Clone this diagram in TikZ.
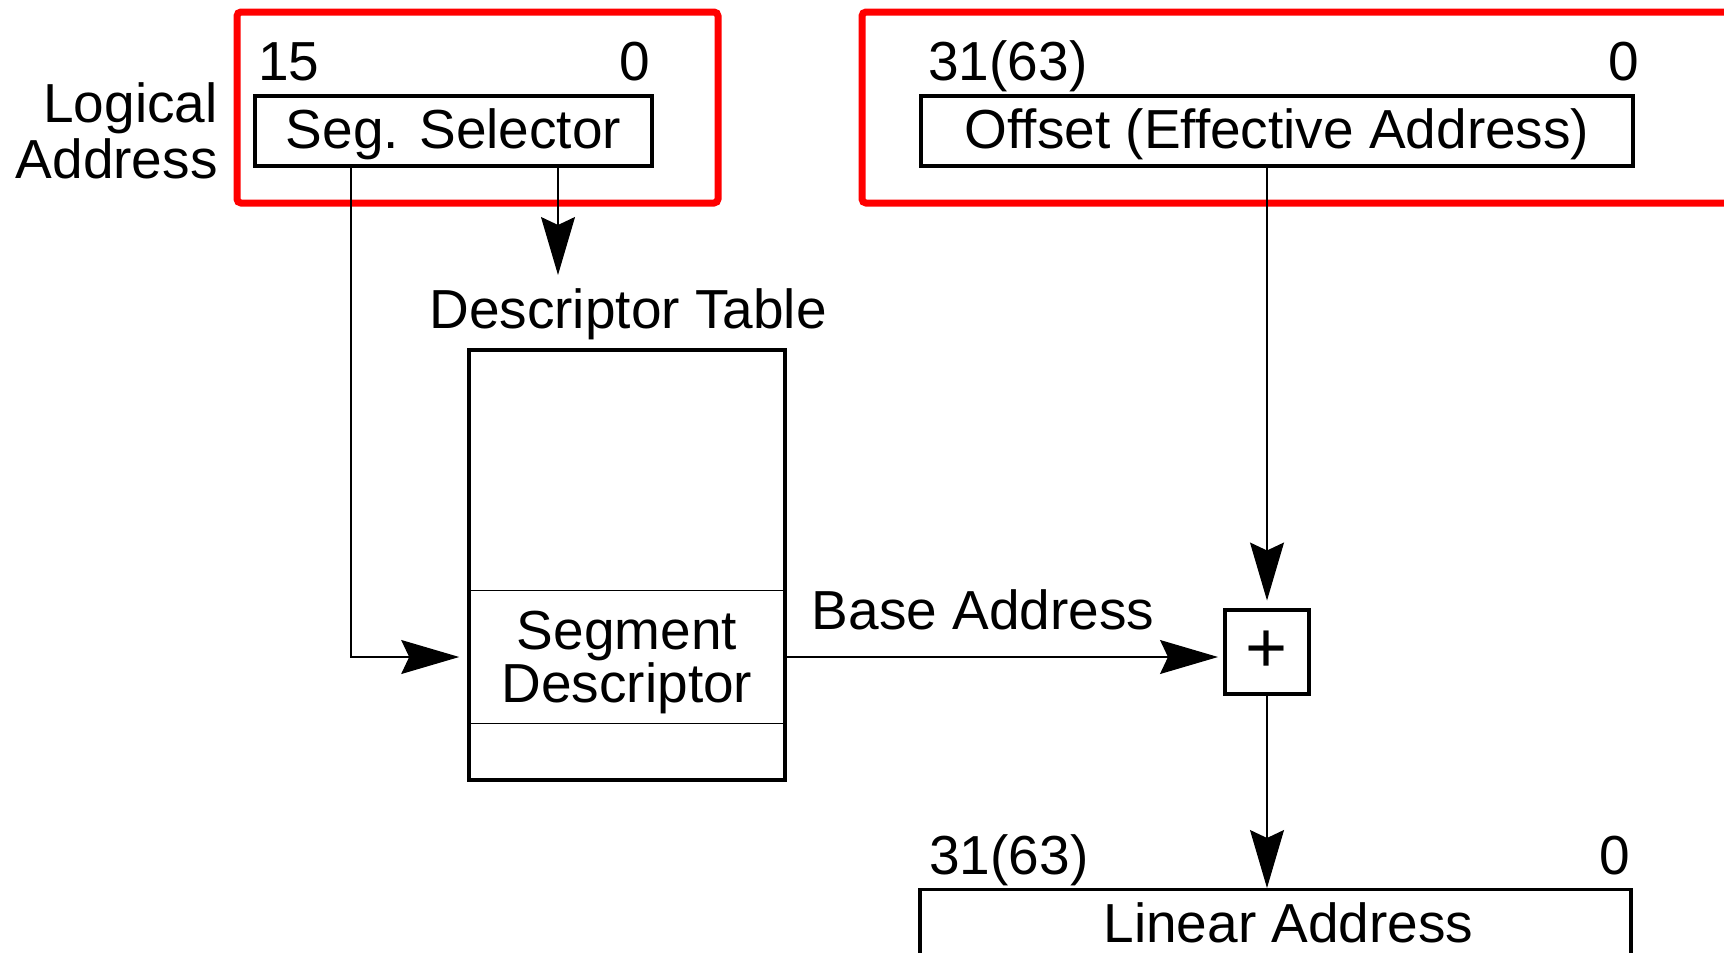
\documentclass[tikz,border=0pt]{standalone}
\usepackage{fontspec}
\setmainfont{Liberation Sans}
\usetikzlibrary{arrows.meta}

\begin{document}
\begin{tikzpicture}[x=0.5pt,y=-0.5pt,>={Stealth[length=29pt,width=17pt,inset=4pt]},
                    font=\fontsize{27.5}{28}\selectfont,
                    conn/.style={->,line width=0.6pt},
                    field/.style={draw,line width=1.7pt,inner sep=0pt,text height=20pt,text depth=3pt},
                    bits/.style={inner sep=0pt},
                    frame/.style={draw=red,line width=3.5pt,rounded corners=2pt}]
\useasboundingbox (0,0) rectangle (1724,953);

% logical address
\draw[frame] (237,12) rectangle (718,203);
\draw[frame] (862,12) rectangle (1770,203);

\node[field,minimum width=198.5pt,minimum height=35pt] (sel) at (453.5,131) {Seg. Selector};
\node[bits,anchor=base west] (selhi) at (258,80) {15};
\node[bits,anchor=base east] (sello) at (650,80) {0};
\node[bits,anchor=east,align=right] (logical) at (218,131) {Logical\\Address};

\node[field,minimum width=356pt,minimum height=35pt] (off) at (1277,131) {Offset (Effective Address)};
\node[bits,anchor=base west] (offhi) at (928,80) {31(63)};
\node[bits,anchor=base east] (offlo) at (1639,80) {0};

% descriptor table
\node[bits,anchor=base] (dtlabel) at (628,328) {Descriptor Table};
\node[draw,line width=0.8pt,minimum width=158pt,minimum height=66.5pt,align=center,text depth=0pt,
      font=\fontsize{27.5}{24.5}\selectfont] (segdesc) at (627,657) {Segment\\Descriptor};
\node[draw,line width=1.7pt,minimum width=158pt,minimum height=215pt] (table) at (627,565) {};

% adder and linear address
\node[draw,line width=2pt,minimum size=42pt,inner sep=0pt,font=\fontsize{36}{36}\selectfont] (plus) at (1267,651.5) {+};
\node[bits,anchor=base] (base) at (983,629) {Base Address};

\node[field,minimum width=355.5pt,anchor=north,inner ysep=6.5pt,text depth=60pt] (lin) at (1275.5,888) {\hspace*{13pt}Linear Address};
\node[bits,anchor=base west] (linhi) at (929,874) {31(63)};
\node[bits,anchor=base east] (linlo) at (1630,874) {0};

\coordinate (selA) at (351,166);
\coordinate (selB) at (558,166);
\coordinate (dtin) at (558,275);
\coordinate (offout) at (1267,166);

\path[conn]
  (selB) edge (dtin)
  (offout) edge[shorten >=3.5pt] (plus)
  (segdesc.east) edge[shorten >=2.5pt] (segdesc.east -| plus.west)
  (plus) edge (plus |- lin.north);
\draw[conn,shorten >=4.5pt] (selA) |- (segdesc.west);

\end{tikzpicture}
\end{document}
